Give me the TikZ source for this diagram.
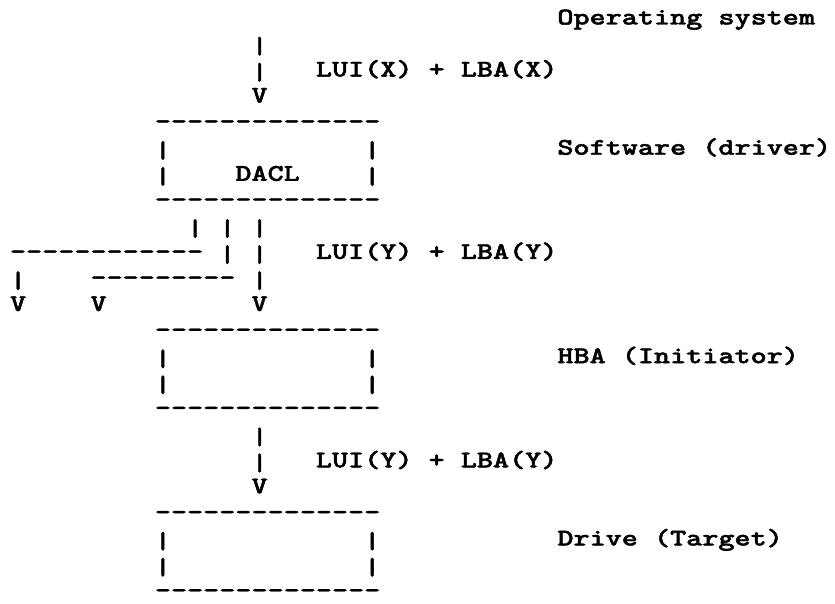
\documentclass[tikz,border=0pt]{standalone}
\usepackage{fontspec}
\usepackage{graphicx}
% typewriter face for the character drawing
\newfontfamily\asciifont{lmmonolt10-bold}[Extension=.otf,Ligatures=TeXOff,FakeBold=1.5]

% character grid: column width 16.1, row height 26.05 (page units = pt)
\newcommand\colx[1]{10+16.1*#1}
\newcommand\rowy[1]{24.5+26.05*#1}
\newcommand\chars[4]{%
  \node[txt] (#1) at ({\colx{#2}},{\rowy{#3}}) {\scalebox{1.278}[1]{#4}};}
% a single bar, set a little below the line so stacked bars line up
\newcommand\vbar[3]{%
  \node[txt] (#1) at ({\colx{#2}},{\rowy{#3}})
    {\raisebox{-3pt}{\scalebox{1.278}[1]{|}}};}

\begin{document}
\begin{tikzpicture}[x=1pt,y=-1pt,
  txt/.style={anchor=base west,inner sep=0pt,outer sep=0pt,
    font=\asciifont\fontsize{24}{24}\selectfont}]
\useasboundingbox[fill=white] (0,0) rectangle (835,604);

% operating system and first request
\chars{os}{34}{0}{Operating system}
\vbar{pa1}{15}{1}
\vbar{pa2}{15}{2}
\chars{lbax}{19}{2}{LUI(X) + LBA(X)}
\chars{va}{15}{3}{V}

% driver box
\chars{d1}{9}{4}{--------------}
\vbar{d2l}{9}{5}
\vbar{d2r}{22}{5}
\chars{sw}{34}{5}{Software (driver)}
\vbar{d3l}{9}{6}
\chars{dacl}{14}{6}{DACL}
\vbar{d3r}{22}{6}
\chars{d4}{9}{7}{--------------}

% three branches out of the driver
\vbar{b1}{11}{8}
\vbar{b2}{13}{8}
\vbar{b3}{15}{8}
\chars{h1}{0}{9}{------------}
\vbar{b4}{13}{9}
\vbar{b5}{15}{9}
\chars{lbay}{19}{9}{LUI(Y) + LBA(Y)}
\vbar{b6}{0}{10}
\chars{h2}{5}{10}{---------}
\vbar{b7}{15}{10}
\chars{v1}{0}{11}{V}
\chars{v2}{5}{11}{V}
\chars{v3}{15}{11}{V}

% HBA box
\chars{h3}{9}{12}{--------------}
\vbar{hl1}{9}{13}
\vbar{hr1}{22}{13}
\chars{hba}{34}{13}{HBA (Initiator)}
\vbar{hl2}{9}{14}
\vbar{hr2}{22}{14}
\chars{h4}{9}{15}{--------------}

% request to the drive
\vbar{pc1}{15}{16}
\vbar{pc2}{15}{17}
\chars{lbaz}{19}{17}{LUI(Y) + LBA(Y)}
\chars{vc}{15}{18}{V}

% drive box
\chars{t1}{9}{19}{--------------}
\vbar{tl1}{9}{20}
\vbar{tr1}{22}{20}
\chars{drv}{34}{20}{Drive (Target)}
\vbar{tl2}{9}{21}
\vbar{tr2}{22}{21}
\chars{t2}{9}{22}{--------------}
\end{tikzpicture}
\end{document}
